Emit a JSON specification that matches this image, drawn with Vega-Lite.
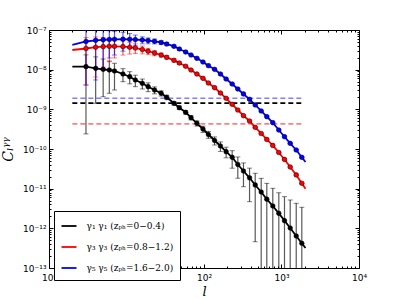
{
  "$schema": "https://vega.github.io/schema/vega-lite/v6.json",
  "width": 310,
  "height": 238,
  "autosize": {"type": "none"},
  "padding": {"left": 49, "top": 30, "right": 40, "bottom": 31},
  "background": "white",
  "config": {
    "view": {"stroke": null},
    "axis": {"grid": false, "domainColor": "black", "tickColor": "black", "labelColor": "black", "labelFont": "DejaVu Sans", "labelFontSize": 9, "titleFont": "DejaVu Serif", "titleFontStyle": "italic", "titleFontWeight": "normal", "titleColor": "black", "labelOverlap": false, "labelFlush": false, "domainWidth": 1}
  },
  "datasets": {
    "hl": [
      {"s": "1", "v": 1.43e-9, "a": 2, "b": 1800},
      {"s": "3", "v": 4.3e-10, "a": 2, "b": 1800},
      {"s": "5", "v": 1.9e-9, "a": 2, "b": 1800}
    ],
    "pts": [
      {"s": "1", "l": 2, "v": 1.2e-8},
      {"s": "1", "l": 3, "v": 1.19e-8, "lo": 2.4e-10, "hi": 2.36e-8},
      {"s": "1", "l": 4, "v": 1.08e-8, "lo": 1.42e-9, "hi": 2.1e-8},
      {"s": "1", "l": 5, "v": 1.02e-8, "lo": 2.08e-9, "hi": 1.86e-8},
      {"s": "1", "l": 6, "v": 9.8e-9, "lo": 2.54e-9, "hi": 1.65e-8},
      {"s": "1", "l": 7, "v": 9.26e-9, "lo": 3.07e-9, "hi": 1.45e-8},
      {"s": "1", "l": 9, "v": 7.78e-9, "lo": 4.98e-9, "hi": 1.06e-8},
      {"s": "1", "l": 11, "v": 6.65e-9, "lo": 4.39e-9, "hi": 8.91e-9},
      {"s": "1", "l": 13, "v": 5.49e-9, "lo": 3.73e-9, "hi": 7.25e-9},
      {"s": "1", "l": 16, "v": 4.53e-9, "lo": 3.26e-9, "hi": 5.8e-9},
      {"s": "1", "l": 19, "v": 3.72e-9, "lo": 2.79e-9, "hi": 4.65e-9},
      {"s": "1", "l": 23, "v": 3.07e-9, "lo": 2.46e-9, "hi": 3.68e-9},
      {"s": "1", "l": 28, "v": 2.54e-9, "lo": 2.16e-9, "hi": 2.92e-9},
      {"s": "1", "l": 33, "v": 2.01e-9, "lo": 1.75e-9, "hi": 2.27e-9},
      {"s": "1", "l": 41, "v": 1.42e-9, "lo": 1.28e-9, "hi": 1.56e-9},
      {"s": "1", "l": 48, "v": 1.1e-9, "lo": 9.9e-10, "hi": 1.21e-9},
      {"s": "1", "l": 58, "v": 8.42e-10, "lo": 7.58e-10, "hi": 9.26e-10},
      {"s": "1", "l": 68, "v": 6.15e-10, "lo": 5.41e-10, "hi": 6.89e-10},
      {"s": "1", "l": 81, "v": 4.45e-10, "lo": 3.78e-10, "hi": 5.12e-10},
      {"s": "1", "l": 97, "v": 3.19e-10, "lo": 2.62e-10, "hi": 3.76e-10},
      {"s": "1", "l": 114, "v": 2.32e-10, "lo": 1.86e-10, "hi": 2.78e-10},
      {"s": "1", "l": 137, "v": 1.64e-10, "lo": 1.26e-10, "hi": 2.02e-10},
      {"s": "1", "l": 163, "v": 1.19e-10, "lo": 8.69e-11, "hi": 1.51e-10},
      {"s": "1", "l": 193, "v": 8.55e-11, "lo": 5.99e-11, "hi": 1.11e-10},
      {"s": "1", "l": 231, "v": 6.18e-11, "lo": 3.28e-11, "hi": 9.08e-11},
      {"s": "1", "l": 273, "v": 4.07e-11, "lo": 1.83e-11, "hi": 6.31e-11},
      {"s": "1", "l": 323, "v": 2.79e-11, "lo": 1.12e-11, "hi": 4.46e-11},
      {"s": "1", "l": 387, "v": 1.88e-11, "lo": 4.7e-12, "hi": 3.29e-11},
      {"s": "1", "l": 458, "v": 1.24e-11, "lo": 4.6e-13, "hi": 2.44e-11},
      {"s": "1", "l": 547, "v": 8.25e-12, "lo": 1e-14, "hi": 1.82e-11},
      {"s": "1", "l": 646, "v": 5.43e-12, "lo": 1e-14, "hi": 1.36e-11},
      {"s": "1", "l": 772, "v": 3.66e-12, "lo": 1e-14, "hi": 1.02e-11},
      {"s": "1", "l": 923, "v": 2.39e-12, "lo": 1e-14, "hi": 7.89e-12},
      {"s": "1", "l": 1093, "v": 1.56e-12, "lo": 1e-14, "hi": 6.29e-12},
      {"s": "1", "l": 1295, "v": 1.02e-12, "lo": 1e-14, "hi": 5.18e-12},
      {"s": "1", "l": 1549, "v": 6.41e-13, "lo": 1e-14, "hi": 4.27e-12},
      {"s": "1", "l": 1828, "v": 4.2e-13, "lo": 1e-14, "hi": 3.39e-12},
      {"s": "1", "l": 2040, "v": 3.18e-13},
      {"s": "3", "l": 2, "v": 3.13e-8},
      {"s": "3", "l": 3, "v": 3.42e-8, "lo": 4.1e-9, "hi": 6.43e-8},
      {"s": "3", "l": 4, "v": 3.68e-8, "lo": 6.54e-9, "hi": 6.7e-8},
      {"s": "3", "l": 5, "v": 3.82e-8, "lo": 1.17e-8, "hi": 6.47e-8},
      {"s": "3", "l": 6, "v": 3.88e-8, "lo": 1.59e-8, "hi": 6.17e-8},
      {"s": "3", "l": 7, "v": 3.88e-8, "lo": 1.97e-8, "hi": 5.79e-8},
      {"s": "3", "l": 9, "v": 3.82e-8, "lo": 2.33e-8, "hi": 5.31e-8},
      {"s": "3", "l": 11, "v": 3.68e-8, "lo": 2.47e-8, "hi": 4.89e-8},
      {"s": "3", "l": 13, "v": 3.52e-8, "lo": 2.57e-8, "hi": 4.47e-8},
      {"s": "3", "l": 16, "v": 3.22e-8, "lo": 2.51e-8, "hi": 3.93e-8},
      {"s": "3", "l": 19, "v": 2.92e-8, "lo": 2.39e-8, "hi": 3.45e-8},
      {"s": "3", "l": 23, "v": 2.63e-8, "lo": 2.24e-8, "hi": 3.02e-8},
      {"s": "3", "l": 28, "v": 2.34e-8, "lo": 2.06e-8, "hi": 2.62e-8},
      {"s": "3", "l": 33, "v": 2.05e-8, "lo": 1.85e-8, "hi": 2.26e-8},
      {"s": "3", "l": 41, "v": 1.72e-8, "lo": 1.58e-8, "hi": 1.86e-8},
      {"s": "3", "l": 48, "v": 1.47e-8, "lo": 1.37e-8, "hi": 1.57e-8},
      {"s": "3", "l": 58, "v": 1.22e-8, "lo": 1.15e-8, "hi": 1.29e-8},
      {"s": "3", "l": 68, "v": 9.81e-9, "lo": 9.42e-9, "hi": 1.02e-8},
      {"s": "3", "l": 81, "v": 7.78e-9, "lo": 7.47e-9, "hi": 8.09e-9},
      {"s": "3", "l": 97, "v": 6.06e-9, "lo": 5.82e-9, "hi": 6.3e-9},
      {"s": "3", "l": 114, "v": 4.61e-9, "lo": 4.43e-9, "hi": 4.79e-9},
      {"s": "3", "l": 137, "v": 3.51e-9, "lo": 3.37e-9, "hi": 3.65e-9},
      {"s": "3", "l": 163, "v": 2.58e-9, "lo": 2.48e-9, "hi": 2.68e-9},
      {"s": "3", "l": 193, "v": 1.9e-9, "lo": 1.82e-9, "hi": 1.98e-9},
      {"s": "3", "l": 231, "v": 1.34e-9, "lo": 1.29e-9, "hi": 1.39e-9},
      {"s": "3", "l": 273, "v": 9.62e-10, "lo": 9.24e-10, "hi": 1.0e-9},
      {"s": "3", "l": 323, "v": 6.92e-10, "lo": 6.64e-10, "hi": 7.2e-10},
      {"s": "3", "l": 387, "v": 5.08e-10, "lo": 4.88e-10, "hi": 5.28e-10},
      {"s": "3", "l": 458, "v": 3.52e-10, "lo": 3.38e-10, "hi": 3.66e-10},
      {"s": "3", "l": 547, "v": 2.46e-10, "lo": 2.36e-10, "hi": 2.56e-10},
      {"s": "3", "l": 646, "v": 1.74e-10, "lo": 1.67e-10, "hi": 1.81e-10},
      {"s": "3", "l": 772, "v": 1.23e-10, "lo": 1.18e-10, "hi": 1.28e-10},
      {"s": "3", "l": 923, "v": 8.17e-11, "lo": 7.84e-11, "hi": 8.5e-11},
      {"s": "3", "l": 1093, "v": 5.45e-11, "lo": 5.23e-11, "hi": 5.67e-11},
      {"s": "3", "l": 1295, "v": 3.52e-11, "lo": 3.38e-11, "hi": 3.66e-11},
      {"s": "3", "l": 1549, "v": 2.22e-11, "lo": 2.13e-11, "hi": 2.31e-11},
      {"s": "3", "l": 1828, "v": 1.37e-11, "lo": 1.32e-11, "hi": 1.42e-11},
      {"s": "3", "l": 2040, "v": 1.0e-11},
      {"s": "5", "l": 2, "v": 4.19e-8},
      {"s": "5", "l": 3, "v": 5.13e-8, "lo": 4.11e-9, "hi": 9.85e-8},
      {"s": "5", "l": 4, "v": 5.5e-8, "lo": 5.49e-9, "hi": 1.045e-7},
      {"s": "5", "l": 5, "v": 5.66e-8, "lo": 9.8e-9, "hi": 1.034e-7},
      {"s": "5", "l": 6, "v": 5.76e-8, "lo": 1.97e-8, "hi": 9.55e-8},
      {"s": "5", "l": 7, "v": 5.83e-8, "lo": 2.34e-8, "hi": 9.32e-8},
      {"s": "5", "l": 9, "v": 5.86e-8, "lo": 2.93e-8, "hi": 8.79e-8},
      {"s": "5", "l": 11, "v": 5.83e-8, "lo": 3.5e-8, "hi": 8.16e-8},
      {"s": "5", "l": 13, "v": 5.73e-8, "lo": 4.01e-8, "hi": 7.45e-8},
      {"s": "5", "l": 16, "v": 5.6e-8, "lo": 4.48e-8, "hi": 6.72e-8},
      {"s": "5", "l": 19, "v": 5.41e-8, "lo": 4.49e-8, "hi": 6.33e-8},
      {"s": "5", "l": 23, "v": 5.19e-8, "lo": 4.46e-8, "hi": 5.92e-8},
      {"s": "5", "l": 28, "v": 4.84e-8, "lo": 4.31e-8, "hi": 5.37e-8},
      {"s": "5", "l": 33, "v": 4.44e-8, "lo": 4.04e-8, "hi": 4.84e-8},
      {"s": "5", "l": 41, "v": 3.88e-8, "lo": 3.61e-8, "hi": 4.15e-8},
      {"s": "5", "l": 48, "v": 3.32e-8, "lo": 3.12e-8, "hi": 3.52e-8},
      {"s": "5", "l": 58, "v": 2.79e-8, "lo": 2.65e-8, "hi": 2.93e-8},
      {"s": "5", "l": 68, "v": 2.34e-8, "lo": 2.25e-8, "hi": 2.43e-8},
      {"s": "5", "l": 81, "v": 1.93e-8, "lo": 1.85e-8, "hi": 2.01e-8},
      {"s": "5", "l": 97, "v": 1.56e-8, "lo": 1.5e-8, "hi": 1.62e-8},
      {"s": "5", "l": 114, "v": 1.26e-8, "lo": 1.21e-8, "hi": 1.31e-8},
      {"s": "5", "l": 137, "v": 1.02e-8, "lo": 9.79e-9, "hi": 1.06e-8},
      {"s": "5", "l": 163, "v": 7.78e-9, "lo": 7.47e-9, "hi": 8.09e-9},
      {"s": "5", "l": 193, "v": 5.82e-9, "lo": 5.59e-9, "hi": 6.05e-9},
      {"s": "5", "l": 231, "v": 4.35e-9, "lo": 4.18e-9, "hi": 4.52e-9},
      {"s": "5", "l": 273, "v": 3.26e-9, "lo": 3.13e-9, "hi": 3.39e-9},
      {"s": "5", "l": 323, "v": 2.44e-9, "lo": 2.34e-9, "hi": 2.54e-9},
      {"s": "5", "l": 387, "v": 1.79e-9, "lo": 1.72e-9, "hi": 1.86e-9},
      {"s": "5", "l": 458, "v": 1.29e-9, "lo": 1.24e-9, "hi": 1.34e-9},
      {"s": "5", "l": 547, "v": 9.09e-10, "lo": 8.73e-10, "hi": 9.45e-10},
      {"s": "5", "l": 646, "v": 6.52e-10, "lo": 6.26e-10, "hi": 6.78e-10},
      {"s": "5", "l": 772, "v": 4.61e-10, "lo": 4.43e-10, "hi": 4.79e-10},
      {"s": "5", "l": 923, "v": 3.01e-10, "lo": 2.89e-10, "hi": 3.13e-10},
      {"s": "5", "l": 1093, "v": 2.04e-10, "lo": 1.96e-10, "hi": 2.12e-10},
      {"s": "5", "l": 1295, "v": 1.39e-10, "lo": 1.33e-10, "hi": 1.45e-10},
      {"s": "5", "l": 1549, "v": 9.44e-11, "lo": 9.06e-11, "hi": 9.82e-11},
      {"s": "5", "l": 1828, "v": 6.18e-11, "lo": 5.93e-11, "hi": 6.43e-11},
      {"s": "5", "l": 2040, "v": 4.7e-11}
    ]
  },
  "resolve": {"axis": {"x": "independent", "y": "independent"}},
  "layer": [
    {
      "data": {"name": "pts"},
      "mark": {"type": "line", "strokeWidth": 1.8, "clip": true},
      "encoding": {
        "x": {"field": "l", "type": "quantitative", "scale": {"type": "log", "domain": [1, 10000], "nice": false},
          "axis": {"orient": "bottom", "title": "l", "titleFontSize": 13, "titlePadding": 1, "labelPadding": 9,
            "values": [1,2,3,4,5,6,7,8,9,10,20,30,40,50,60,70,80,90,100,200,300,400,500,600,700,800,900,1000,2000,3000,4000,5000,6000,7000,8000,9000,10000],
            "tickSize": {"condition": {"test": "abs(log(datum.value)/LN10 - round(log(datum.value)/LN10)) < 0.01", "value": -4}, "value": -2},
            "labelExpr": "abs(log(datum.value)/LN10 - round(log(datum.value)/LN10)) < 0.01 ? '10' + ['⁰','¹','²','³','⁴'][round(log(datum.value)/LN10)] : ''"}},
        "y": {"field": "v", "type": "quantitative", "scale": {"type": "log", "domain": [1e-13, 1e-7], "nice": false},
          "axis": {"orient": "left", "title": "Cₗᵞᵞ", "titleFontSize": 14, "titlePadding": 7, "labelPadding": 7,
            "values": [1e-13,2e-13,3e-13,4e-13,5e-13,6e-13,7e-13,8e-13,9e-13,1e-12,2e-12,3e-12,4e-12,5e-12,6e-12,7e-12,8e-12,9e-12,1e-11,2e-11,3e-11,4e-11,5e-11,6e-11,7e-11,8e-11,9e-11,1e-10,2e-10,3e-10,4e-10,5e-10,6e-10,7e-10,8e-10,9e-10,1e-9,2e-9,3e-9,4e-9,5e-9,6e-9,7e-9,8e-9,9e-9,1e-8,2e-8,3e-8,4e-8,5e-8,6e-8,7e-8,8e-8,9e-8,1e-7],
            "tickSize": {"condition": {"test": "abs(log(datum.value)/LN10 - round(log(datum.value)/LN10)) < 0.01", "value": -4}, "value": -2},
            "labelExpr": "abs(log(datum.value)/LN10 - round(log(datum.value)/LN10)) < 0.01 ? '10' + ['⁻¹³','⁻¹²','⁻¹¹','⁻¹⁰','⁻⁹','⁻⁸','⁻⁷'][round(log(datum.value)/LN10) + 13] : ''"}},
        "color": {"field": "s", "type": "nominal", "scale": {"domain": ["1", "3", "5"], "range": ["#000000", "#ff0000", "#0000ff"]},
          "legend": {"orient": "none", "legendX": 5, "legendY": 181, "title": null, "fillColor": "white", "strokeColor": "black", "padding": 6.5, "rowPadding": 7,
            "symbolType": "stroke", "symbolSize": 225, "symbolStrokeWidth": 1.8, "labelFont": "DejaVu Serif", "labelFontSize": 9, "labelColor": "black", "labelOffset": 9,
            "labelExpr": "datum.value == '1' ? 'γ₁ γ₁ (zₚₕ=0−0.4)' : datum.value == '3' ? 'γ₃ γ₃ (zₚₕ=0.8−1.2)' : 'γ₅ γ₅ (zₚₕ=1.6−2.0)'"}}
      }
    },
    {
      "data": {"name": "hl"},
      "mark": {"type": "rule", "strokeDash": [5, 3], "strokeWidth": 1.6},
      "encoding": {
        "x": {"field": "a", "type": "quantitative", "scale": {"type": "log", "domain": [1, 10000], "nice": false},
          "axis": {"orient": "top", "title": null, "labels": false, "domain": true,
            "values": [1,2,3,4,5,6,7,8,9,10,20,30,40,50,60,70,80,90,100,200,300,400,500,600,700,800,900,1000,2000,3000,4000,5000,6000,7000,8000,9000,10000],
            "tickSize": {"condition": {"test": "abs(log(datum.value)/LN10 - round(log(datum.value)/LN10)) < 0.01", "value": -4}, "value": -2}}},
        "x2": {"field": "b"},
        "y": {"field": "v", "type": "quantitative", "scale": {"type": "log", "domain": [1e-13, 1e-7], "nice": false},
          "axis": {"orient": "right", "title": null, "labels": false, "domain": true,
            "values": [1e-13,2e-13,3e-13,4e-13,5e-13,6e-13,7e-13,8e-13,9e-13,1e-12,2e-12,3e-12,4e-12,5e-12,6e-12,7e-12,8e-12,9e-12,1e-11,2e-11,3e-11,4e-11,5e-11,6e-11,7e-11,8e-11,9e-11,1e-10,2e-10,3e-10,4e-10,5e-10,6e-10,7e-10,8e-10,9e-10,1e-9,2e-9,3e-9,4e-9,5e-9,6e-9,7e-9,8e-9,9e-9,1e-8,2e-8,3e-8,4e-8,5e-8,6e-8,7e-8,8e-8,9e-8,1e-7],
            "tickSize": {"condition": {"test": "abs(log(datum.value)/LN10 - round(log(datum.value)/LN10)) < 0.01", "value": -4}, "value": -2}}},
        "color": {"field": "s", "type": "nominal", "scale": {"domain": ["1", "3", "5"], "range": ["#000000", "#ff0000", "#0000ff"]}, "legend": null},
        "opacity": {"condition": {"test": "datum.s == '1'", "value": 1}, "value": 0.5}
      }
    },
    {
      "data": {"name": "pts"},
      "transform": [{"filter": "datum.hi != null"}],
      "mark": {"type": "rule", "strokeWidth": 1.2, "opacity": 0.65, "clip": true},
      "encoding": {
        "x": {"field": "l", "type": "quantitative", "scale": {"type": "log", "domain": [1, 10000], "nice": false}, "axis": null},
        "y": {"field": "lo", "type": "quantitative", "scale": {"type": "log", "domain": [1e-13, 1e-7], "nice": false}, "axis": null},
        "y2": {"field": "hi"},
        "color": {"field": "s", "type": "nominal", "scale": {"domain": ["1", "3", "5"], "range": ["#000000", "#ff0000", "#0000ff"]}, "legend": null}
      }
    },
    {
      "data": {"name": "pts"},
      "transform": [{"filter": "datum.hi != null"}],
      "mark": {"type": "tick", "orient": "horizontal", "size": 5, "thickness": 1, "opacity": 0.5, "clip": true},
      "encoding": {
        "x": {"field": "l", "type": "quantitative", "scale": {"type": "log", "domain": [1, 10000], "nice": false}, "axis": null},
        "y": {"field": "hi", "type": "quantitative", "scale": {"type": "log", "domain": [1e-13, 1e-7], "nice": false}, "axis": null},
        "color": {"field": "s", "type": "nominal", "scale": {"domain": ["1", "3", "5"], "range": ["#000000", "#ff0000", "#0000ff"]}, "legend": null}
      }
    },
    {
      "data": {"name": "pts"},
      "transform": [{"filter": "datum.hi != null"}],
      "mark": {"type": "tick", "orient": "horizontal", "size": 5, "thickness": 1, "opacity": 0.5, "clip": true},
      "encoding": {
        "x": {"field": "l", "type": "quantitative", "scale": {"type": "log", "domain": [1, 10000], "nice": false}, "axis": null},
        "y": {"field": "lo", "type": "quantitative", "scale": {"type": "log", "domain": [1e-13, 1e-7], "nice": false}, "axis": null},
        "color": {"field": "s", "type": "nominal", "scale": {"domain": ["1", "3", "5"], "range": ["#000000", "#ff0000", "#0000ff"]}, "legend": null}
      }
    },
    {
      "data": {"name": "pts"},
      "transform": [{"filter": "datum.hi != null"}],
      "mark": {"type": "circle", "size": 22, "stroke": "black", "strokeWidth": 0.5, "opacity": 1, "clip": true},
      "encoding": {
        "x": {"field": "l", "type": "quantitative", "scale": {"type": "log", "domain": [1, 10000], "nice": false}, "axis": null},
        "y": {"field": "v", "type": "quantitative", "scale": {"type": "log", "domain": [1e-13, 1e-7], "nice": false}, "axis": null},
        "color": {"field": "s", "type": "nominal", "scale": {"domain": ["1", "3", "5"], "range": ["#000000", "#ff0000", "#0000ff"]}, "legend": null}
      }
    }
  ]
}
